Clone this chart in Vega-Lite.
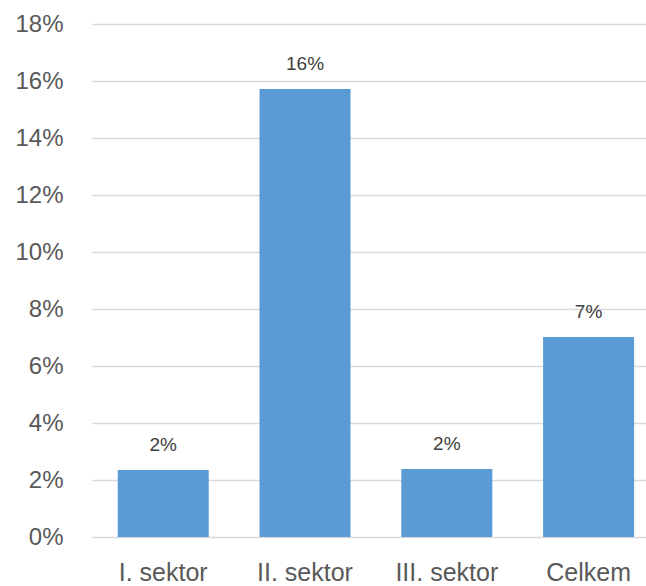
{
  "$schema": "https://vega.github.io/schema/vega-lite/v6.json",
  "autosize": "none",
  "padding": {"left": 92, "top": 24, "right": 0, "bottom": 49},
  "width": 554,
  "height": 513,
  "background": "white",
  "config": {"view": {"stroke": null}, "font": "Liberation Sans"},
  "data": {"values": [
    {"sektor": "I. sektor", "value": 0.0235},
    {"sektor": "II. sektor", "value": 0.1572},
    {"sektor": "III. sektor", "value": 0.0239},
    {"sektor": "Celkem", "value": 0.0702}
  ]},
  "encoding": {
    "x": {"field": "sektor", "type": "nominal", "sort": null,
      "scale": {"paddingInner": 0.358, "paddingOuter": 0.1326, "align": 0.684},
      "axis": {"title": null, "labelAngle": 0, "labelFontSize": 25, "labelColor": "#595959", "labelPadding": 23, "ticks": false, "domain": false, "grid": false}},
    "y": {"field": "value", "type": "quantitative",
      "scale": {"domain": [0, 0.18]},
      "axis": {"title": null, "format": ".0%", "values": [0,0.02,0.04,0.06,0.08,0.1,0.12,0.14,0.16,0.18], "labelFontSize": 24, "labelColor": "#595959", "labelPadding": 29, "ticks": false, "domain": false, "gridColor": "#D9D9D9", "gridWidth": 1.3}}
  },
  "layer": [
    {"mark": {"type": "bar", "color": "#5B9BD5"}},
    {"mark": {"type": "text", "baseline": "middle", "dy": -25, "fontSize": 19, "color": "#404040"},
     "encoding": {"text": {"field": "value", "format": ".0%"}}}
  ]
}
